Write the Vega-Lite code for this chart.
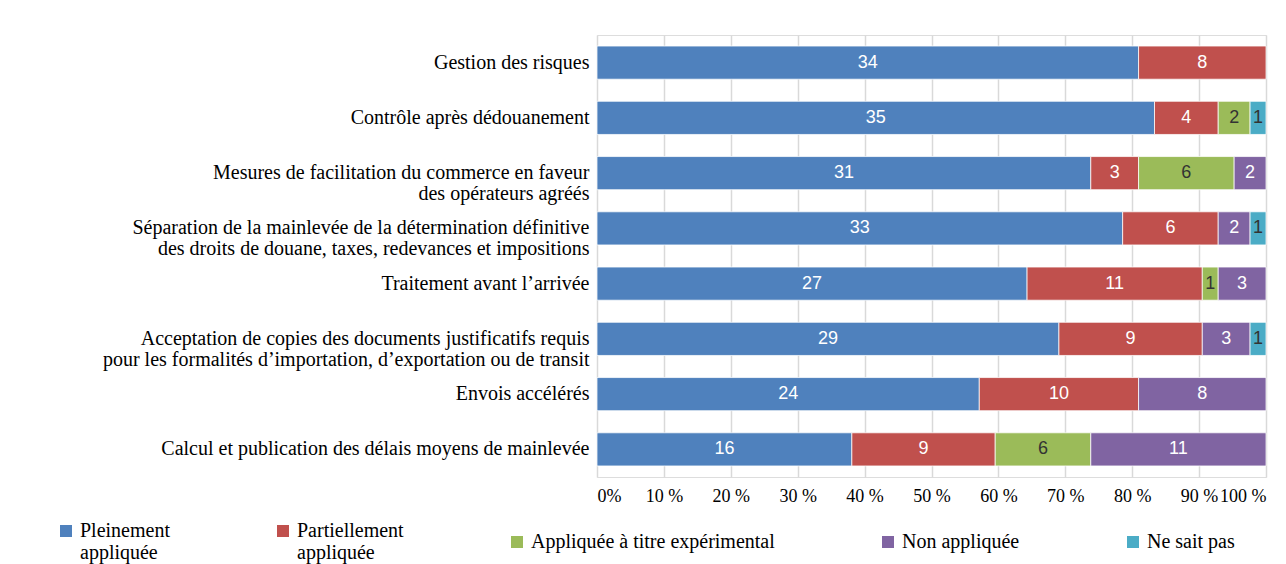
{
  "$schema": "https://vega.github.io/schema/vega-lite/v6.json",
  "width": 669,
  "height": 442,
  "autosize": {"type": "none"},
  "padding": {"left": 597, "top": 35, "right": 20, "bottom": 87},
  "background": "white",
  "data": {
    "values": [
      {"cat": "Gestion des risques", "series": "Pleinement appliquée", "n": 34},
      {"cat": "Gestion des risques", "series": "Partiellement appliquée", "n": 8},
      {"cat": "Contrôle après dédouanement", "series": "Pleinement appliquée", "n": 35},
      {"cat": "Contrôle après dédouanement", "series": "Partiellement appliquée", "n": 4},
      {"cat": "Contrôle après dédouanement", "series": "Appliquée à titre expérimental", "n": 2},
      {"cat": "Contrôle après dédouanement", "series": "Ne sait pas", "n": 1},
      {"cat": "Mesures de facilitation du commerce en faveur|des opérateurs agréés", "series": "Pleinement appliquée", "n": 31},
      {"cat": "Mesures de facilitation du commerce en faveur|des opérateurs agréés", "series": "Partiellement appliquée", "n": 3},
      {"cat": "Mesures de facilitation du commerce en faveur|des opérateurs agréés", "series": "Appliquée à titre expérimental", "n": 6},
      {"cat": "Mesures de facilitation du commerce en faveur|des opérateurs agréés", "series": "Non appliquée", "n": 2},
      {"cat": "Séparation de la mainlevée de la détermination définitive|des droits de douane, taxes, redevances et impositions", "series": "Pleinement appliquée", "n": 33},
      {"cat": "Séparation de la mainlevée de la détermination définitive|des droits de douane, taxes, redevances et impositions", "series": "Partiellement appliquée", "n": 6},
      {"cat": "Séparation de la mainlevée de la détermination définitive|des droits de douane, taxes, redevances et impositions", "series": "Non appliquée", "n": 2},
      {"cat": "Séparation de la mainlevée de la détermination définitive|des droits de douane, taxes, redevances et impositions", "series": "Ne sait pas", "n": 1},
      {"cat": "Traitement avant l’arrivée", "series": "Pleinement appliquée", "n": 27},
      {"cat": "Traitement avant l’arrivée", "series": "Partiellement appliquée", "n": 11},
      {"cat": "Traitement avant l’arrivée", "series": "Appliquée à titre expérimental", "n": 1},
      {"cat": "Traitement avant l’arrivée", "series": "Non appliquée", "n": 3},
      {"cat": "Acceptation de copies des documents justificatifs requis|pour les formalités d’importation, d’exportation ou de transit", "series": "Pleinement appliquée", "n": 29},
      {"cat": "Acceptation de copies des documents justificatifs requis|pour les formalités d’importation, d’exportation ou de transit", "series": "Partiellement appliquée", "n": 9},
      {"cat": "Acceptation de copies des documents justificatifs requis|pour les formalités d’importation, d’exportation ou de transit", "series": "Non appliquée", "n": 3},
      {"cat": "Acceptation de copies des documents justificatifs requis|pour les formalités d’importation, d’exportation ou de transit", "series": "Ne sait pas", "n": 1},
      {"cat": "Envois accélérés", "series": "Pleinement appliquée", "n": 24},
      {"cat": "Envois accélérés", "series": "Partiellement appliquée", "n": 10},
      {"cat": "Envois accélérés", "series": "Non appliquée", "n": 8},
      {"cat": "Calcul et publication des délais moyens de mainlevée", "series": "Pleinement appliquée", "n": 16},
      {"cat": "Calcul et publication des délais moyens de mainlevée", "series": "Partiellement appliquée", "n": 9},
      {"cat": "Calcul et publication des délais moyens de mainlevée", "series": "Appliquée à titre expérimental", "n": 6},
      {"cat": "Calcul et publication des délais moyens de mainlevée", "series": "Non appliquée", "n": 11}
    ]
  },
  "transform": [
    {"calculate": "indexof(['Pleinement appliquée','Partiellement appliquée','Appliquée à titre expérimental','Non appliquée','Ne sait pas'], datum.series)", "as": "o"},
    {"stack": "n", "groupby": ["cat"], "sort": [{"field": "o", "order": "ascending"}], "offset": "normalize", "as": ["x0", "x1"]},
    {"calculate": "(datum.x0 + datum.x1) / 2", "as": "xm"}
  ],
  "encoding": {
    "y": {
      "field": "cat",
      "type": "nominal",
      "sort": [
        "Gestion des risques",
        "Contrôle après dédouanement",
        "Mesures de facilitation du commerce en faveur|des opérateurs agréés",
        "Séparation de la mainlevée de la détermination définitive|des droits de douane, taxes, redevances et impositions",
        "Traitement avant l’arrivée",
        "Acceptation de copies des documents justificatifs requis|pour les formalités d’importation, d’exportation ou de transit",
        "Envois accélérés",
        "Calcul et publication des délais moyens de mainlevée"
      ],
      "scale": {"paddingInner": 0.4, "paddingOuter": 0.2},
      "axis": {
        "title": null,
        "ticks": false,
        "domain": false,
        "labelExpr": "split(datum.label, '|')",
        "labelFont": "Liberation Serif",
        "labelFontSize": 20,
        "labelLineHeight": 21,
        "labelColor": "#000000",
        "labelPadding": 8,
        "labelLimit": 0
      }
    }
  },
  "layer": [
    {
      "mark": {"type": "bar", "stroke": "white", "strokeWidth": 0.75},
      "encoding": {
        "x": {
          "field": "x0",
          "type": "quantitative",
          "scale": {"domain": [0, 1], "nice": false},
          "axis": {
            "title": null,
            "values": [0, 0.1, 0.2, 0.3, 0.4, 0.5, 0.6, 0.7, 0.8, 0.9, 1],
            "labelExpr": "datum.value == 0 ? '0%' : format(datum.value * 100, 'd') + ' %'",
            "labelOverlap": false,
            "grid": true,
            "gridColor": "#d9d9d9",
            "gridWidth": 1.5,
            "ticks": false,
            "domain": false,
            "labelFont": "Liberation Serif",
            "labelFontSize": 18,
            "labelColor": "#000000",
            "labelPadding": 10,
            "labelFlush": true,
            "labelFlushOffset": 0
          }
        },
        "x2": {"field": "x1"},
        "color": {
          "field": "series",
          "type": "nominal",
          "scale": {
            "domain": ["Pleinement appliquée", "Partiellement appliquée", "Appliquée à titre expérimental", "Non appliquée", "Ne sait pas"],
            "range": ["#4F81BD", "#C0504D", "#9BBB59", "#8064A2", "#4BACC6"]
          },
          "legend": {
            "title": null,
            "orient": "none",
            "legendX": -541,
            "legendY": 486,
            "direction": "horizontal",
            "columns": 5,
            "columnPadding": 103,
            "symbolType": "square",
            "symbolSize": 144,
            "symbolStrokeWidth": 0,
            "labelOffset": 4,
            "labelFont": "Liberation Serif",
            "labelFontSize": 20,
            "labelLineHeight": 19,
            "labelColor": "#000000",
            "labelLimit": 0,
            "labelExpr": "datum.label == 'Pleinement appliquée' ? ['Pleinement', 'appliquée'] : datum.label == 'Partiellement appliquée' ? ['Partiellement', 'appliquée'] : datum.label"
          }
        }
      }
    },
    {
      "mark": {"type": "text", "font": "Liberation Sans", "fontSize": 18, "baseline": "middle", "align": "center"},
      "encoding": {
        "x": {"field": "xm", "type": "quantitative"},
        "text": {"field": "n", "type": "quantitative"},
        "color": {
          "condition": {"test": "datum.series == 'Appliquée à titre expérimental' || datum.series == 'Ne sait pas'", "value": "#333333"},
          "value": "white"
        }
      }
    }
  ]
}
